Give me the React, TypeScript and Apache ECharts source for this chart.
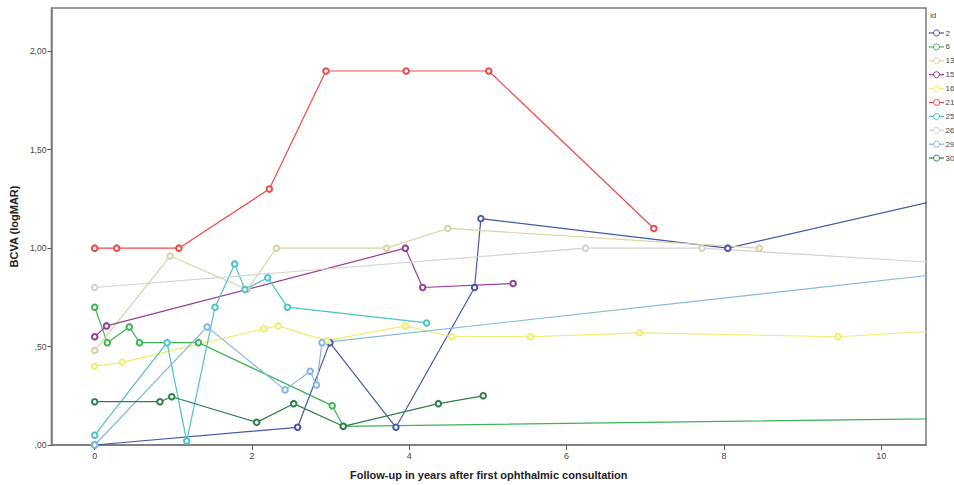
import React, { useEffect, useRef } from "react";
import * as echarts from "echarts";

const ids = ["2", "6", "13", "15", "16", "21", "25", "26", "29", "30"];
const colors = ["#4358ab", "#3db554", "#d8d2a4", "#9a3c94", "#f0ec6c", "#ee4848", "#4ec1c9", "#d4d1d1", "#84b6e2", "#2f7f4c"];

const s2 = [[0, 0], [2.58, 0.09], [2.99, 0.52], [3.83, 0.09], [4.83, 0.8], [4.91, 1.15], [8.05, 1.0], [12, 1.36]];
const s6 = [[0, 0.7], [0.16, 0.52], [0.44, 0.6], [0.57, 0.52], [1.32, 0.52], [3.02, 0.2], [3.16, 0.095], [12, 0.14]];
const s13 = [[0, 0.48], [0.96, 0.96], [1.94, 0.79], [2.31, 1.0], [3.71, 1.0], [4.49, 1.1], [8.45, 1.0]];
const s15 = [[0, 0.55], [0.15, 0.605], [3.95, 1.0], [4.17, 0.8], [5.32, 0.82]];
const s16 = [[0, 0.4], [0.35, 0.42], [2.15, 0.59], [2.33, 0.605], [2.95, 0.53], [3.95, 0.605], [4.54, 0.55], [5.54, 0.55], [6.93, 0.57], [9.45, 0.55], [12, 0.61]];
const s21 = [[0, 1.0], [0.28, 1.0], [1.07, 1.0], [2.22, 1.3], [2.94, 1.9], [3.96, 1.9], [5.01, 1.9], [7.11, 1.1]];
const s25 = [[0, 0.05], [0.92, 0.52], [1.17, 0.02], [1.53, 0.7], [1.78, 0.92], [1.91, 0.79], [2.2, 0.85], [2.45, 0.7], [4.22, 0.62]];
const s26 = [[0, 0.8], [6.24, 1.0], [7.72, 1.0], [12, 0.895]];
const s29 = [[0, 0], [1.43, 0.6], [2.42, 0.28], [2.74, 0.375], [2.82, 0.305], [2.89, 0.52], [12, 0.924]];
const s30 = [[0, 0.22], [0.83, 0.22], [0.98, 0.245], [2.06, 0.115], [2.53, 0.21], [3.16, 0.095], [4.37, 0.21], [4.94, 0.25]];
const seriesData = [s2, s6, s13, s15, s16, s21, s25, s26, s29, s30];

const xTicks = [0, 2, 4, 6, 8, 10];
const yTicks = [0, 0.5, 1.0, 1.5, 2.0];

const FONT = "'Liberation Sans Narrow', 'Arial Narrow', 'Liberation Sans', Arial, sans-serif";

export default function App() {
  const ref = useRef<HTMLDivElement>(null);
  useEffect(() => {
    if (!ref.current) return;
    const chart = echarts.init(ref.current, undefined, { renderer: "svg" });
    const legendGraphics: any[] = [
      { type: "text", x: 930, y: 15, style: { text: "id", fontSize: 8, fill: "#444", fontFamily: FONT, verticalAlign: "middle" } },
    ];
    ids.forEach((id, i) => {
      const y = 33 + i * 13.9;
      legendGraphics.push({ type: "line", shape: { x1: 929, y1: y, x2: 944, y2: y }, style: { stroke: colors[i], lineWidth: 1.2 } });
      legendGraphics.push({ type: "circle", shape: { cx: 936.5, cy: y, r: 3 }, style: { stroke: colors[i], fill: "#fff", lineWidth: 1 } });
      legendGraphics.push({ type: "text", x: 945.5, y: y, style: { text: id, fontSize: 8, fill: "#444", fontFamily: FONT, verticalAlign: "middle" } });
    });
    chart.setOption({
      animation: false,
      backgroundColor: "#fff",
      grid: { left: 51, top: 8, right: 28, bottom: 38, show: true, borderColor: "#7a7a7a", borderWidth: 1.5, backgroundColor: "transparent" },
      xAxis: {
        type: "value",
        min: -0.55,
        max: 10.57,
        name: "Follow-up in years after first ophthalmic consultation",
        nameLocation: "middle",
        nameGap: 24,
        nameTextStyle: { fontSize: 11, fontWeight: "bold", color: "#222", fontFamily: FONT },
        axisLine: { show: true, onZero: false, lineStyle: { color: "#7a7a7a", width: 1.5 } },
        axisTick: { show: true, length: 5, customValues: xTicks, lineStyle: { color: "#555" } },
        axisLabel: { customValues: xTicks, fontSize: 9, color: "#444", margin: 6, fontFamily: FONT },
        splitLine: { show: false },
      },
      yAxis: {
        type: "value",
        min: 0,
        max: 2.22,
        name: "BCVA (logMAR)",
        nameLocation: "middle",
        nameRotate: 90,
        nameGap: 28,
        nameTextStyle: { fontSize: 11, fontWeight: "bold", color: "#222", fontFamily: FONT },
        axisLine: { show: true, onZero: false, lineStyle: { color: "#7a7a7a", width: 1.5 } },
        axisTick: { show: true, length: 4, customValues: yTicks, lineStyle: { color: "#555" } },
        axisLabel: {
          customValues: yTicks,
          fontSize: 8.5,
          color: "#444",
          margin: 5,
          fontFamily: FONT,
          formatter: (v: number) => v.toFixed(2).replace(".", ",").replace(/^0/, ""),
        },
        splitLine: { show: false },
      },
      series: ids.map((id, i) => ({
        name: id,
        type: "line",
        data: seriesData[i],
        clip: true,
        symbol: "emptyCircle",
        symbolSize: 5.5,
        showAllSymbol: true,
        color: colors[i],
        lineStyle: { width: 1.2, color: colors[i] },
        itemStyle: { color: colors[i], borderWidth: 0.9 },
      })),
      graphic: legendGraphics,
    });
    return () => chart.dispose();
  }, []);
  return <div ref={ref} style={{ position: "fixed", left: 0, top: 0, width: 954, height: 485 }} />;
}
